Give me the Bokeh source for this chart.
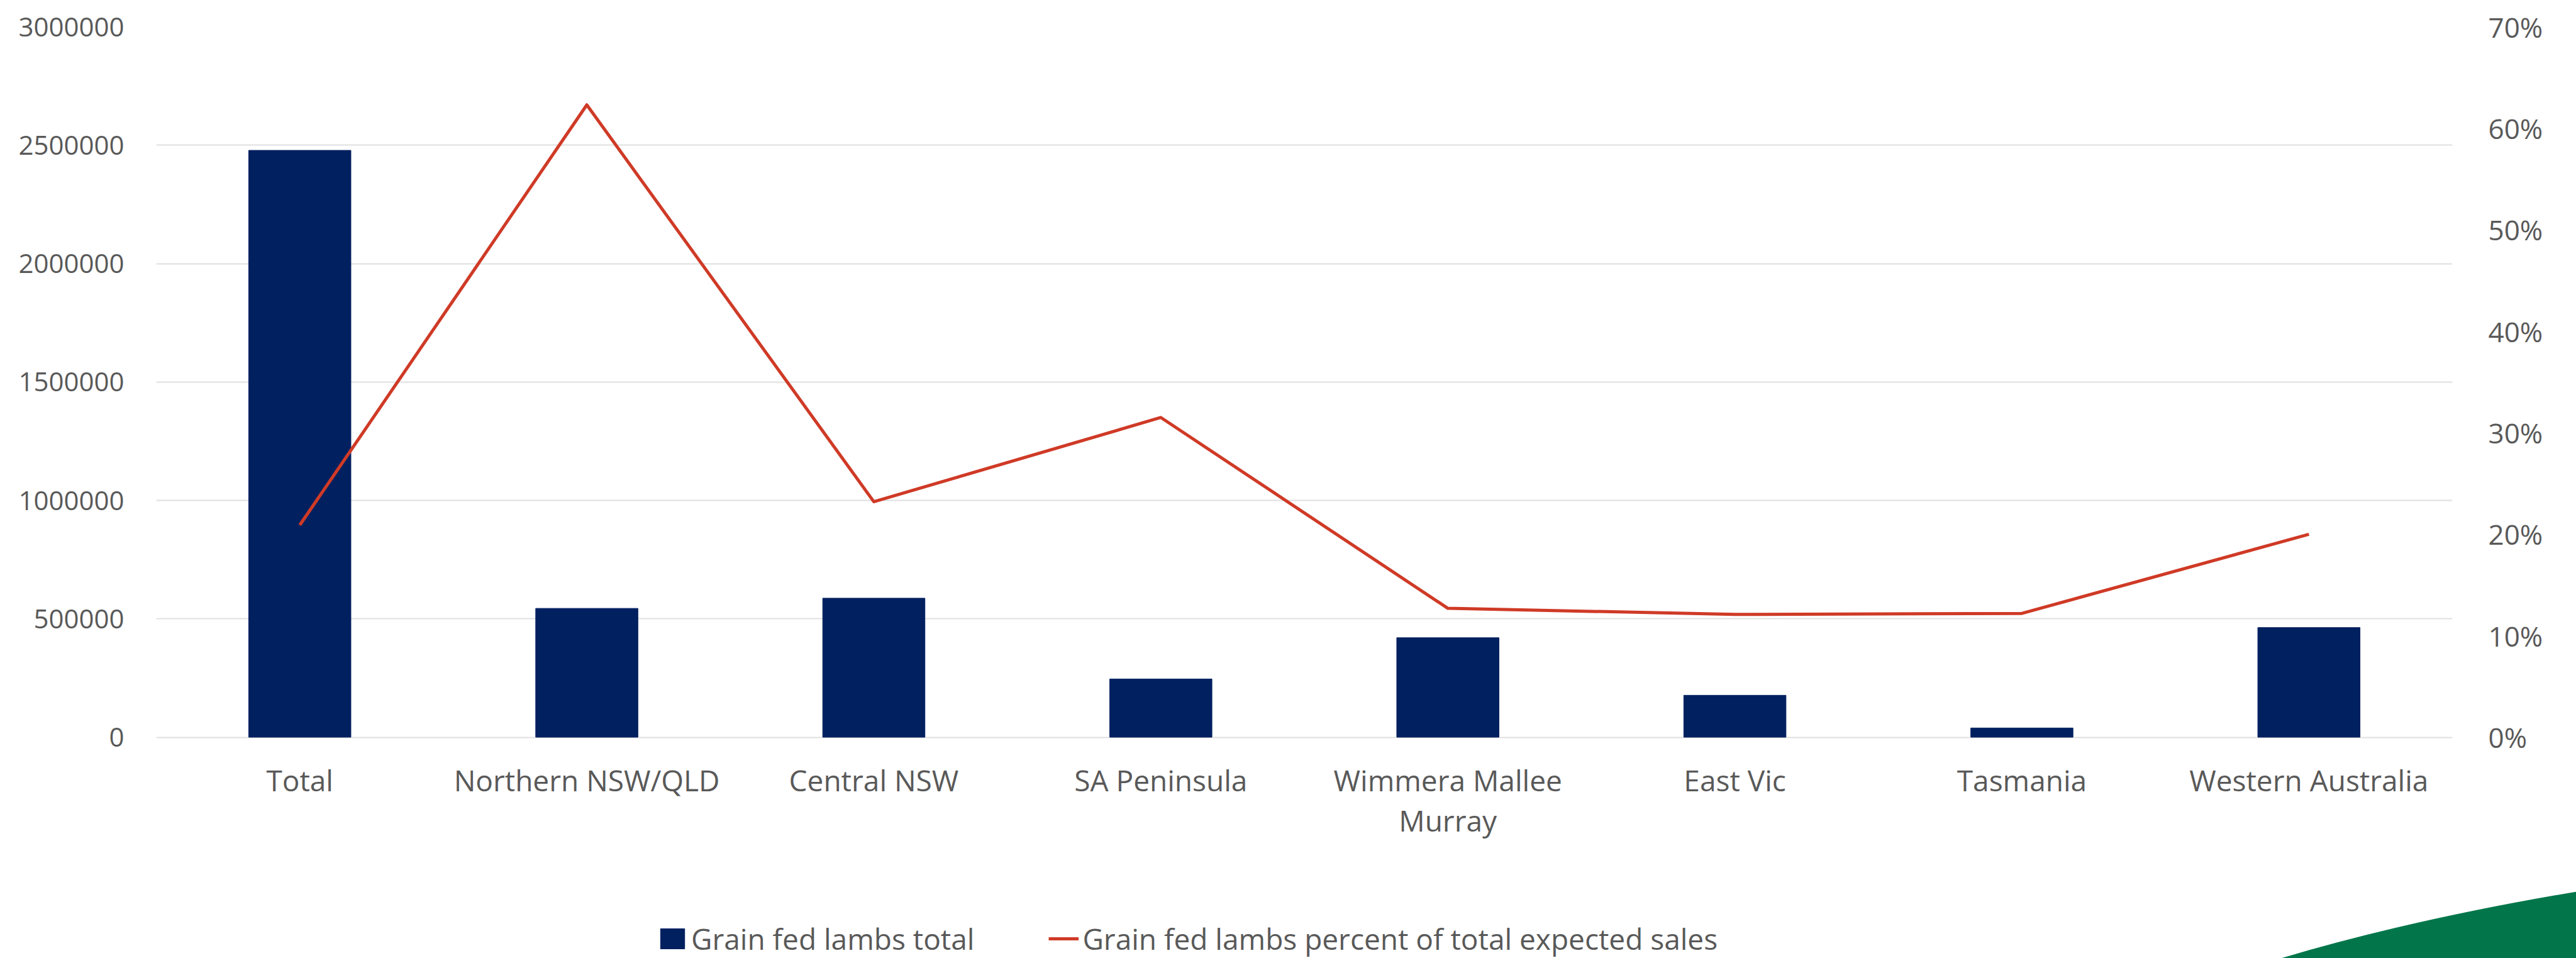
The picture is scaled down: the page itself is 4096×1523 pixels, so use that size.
from bokeh.plotting import figure
from bokeh.models import (Range1d, FactorRange, LinearAxis, FixedTicker, NumeralTickFormatter,
                          Legend, LegendItem)
from bokeh.core.properties import value
from bokeh.embed import file_html
from bokeh.resources import INLINE

categories = ["Total", "Northern NSW/QLD", "Central NSW", "SA Peninsula",
              "Wimmera Mallee\nMurray", "East Vic", "Tasmania", "Western Australia"]
lambs_total = [2478000, 544000, 587000, 246000, 420000, 177000, 39000, 463000]
pct_of_sales = [0.209, 0.623, 0.232, 0.315, 0.127, 0.121, 0.122, 0.200]
left_ticks = [0, 500000, 1000000, 1500000, 2000000, 2500000, 3000000]
right_ticks = [0.0, 0.1, 0.2, 0.3, 0.4, 0.5, 0.6, 0.7]

FONT = "Open Sans"
TXT = "#595959"
BAR = "#002060"
RED = "#CF3A26"
GREEN = "%2302764A"

W, H = 4096, 1523
TOP, LEFT, RIGHT = 42, 248, 197
PLOT_PX = 1129.5               # height of the value area (0 .. max)
BELOW_PX = H - TOP - PLOT_PX   # area under the zero line (category labels, legend)
LEFT_MAX, RIGHT_MAX = 3000000, 0.7

p = figure(width=W, height=H, output_backend="svg", toolbar_location=None,
           x_range=FactorRange(*categories, range_padding=0),
           y_range=Range1d(-LEFT_MAX * BELOW_PX / PLOT_PX, LEFT_MAX),
           x_axis_location=None,
           min_border_left=LEFT, min_border_right=RIGHT, min_border_top=TOP, min_border_bottom=0)
p.outline_line_color = None
p.background_fill_alpha = 0
p.border_fill_alpha = 0
p.extra_y_ranges = {"pct": Range1d(-RIGHT_MAX * BELOW_PX / PLOT_PX, RIGHT_MAX)}

# decorative green swoosh in the bottom-right corner (page decoration, drawn with CSS)
swoosh = ("<svg xmlns='http://www.w3.org/2000/svg' width='4096' height='1523'>"
          "<path d='M3615,1527 Q3830,1462 4100,1417 L4100,1530 L3600,1530 Z' fill='" + GREEN + "'/></svg>")
p.styles = {"background-image": 'url("data:image/svg+xml;utf8,' + swoosh + '")',
            "background-repeat": "no-repeat", "background-color": "white"}

p.xgrid.grid_line_color = None
p.ygrid.ticker = FixedTicker(ticks=left_ticks)
p.ygrid.grid_line_color = "#E0E0E0"
p.ygrid.grid_line_width = 2

bars = p.vbar(x=categories, top=lambs_total, width=0.356, fill_color=BAR, line_color=BAR)
line = p.line(x=categories, y=pct_of_sales, y_range_name="pct", line_color=RED, line_width=5,
              line_join="round")

# category labels under the zero line
p.text(x=categories, y=[0] * len(categories), text=categories, y_offset=37,
       text_align="center", text_baseline="top", text_line_height=1.04,
       text_font=value(FONT), text_font_size="46px", text_color=TXT)

# left axis
ya = p.yaxis[0]
ya.ticker = FixedTicker(ticks=left_ticks)
ya.formatter = NumeralTickFormatter(format="0")
ya.axis_line_color = None
ya.major_tick_line_color = None
ya.minor_tick_line_color = None
ya.major_label_standoff = 45
ya.major_label_text_font = FONT
ya.major_label_text_font_size = "42px"
ya.major_label_text_color = TXT

# right axis
ra = LinearAxis(y_range_name="pct", ticker=FixedTicker(ticks=right_ticks),
                formatter=NumeralTickFormatter(format="0%"))
ra.axis_line_color = None
ra.major_tick_line_color = None
ra.minor_tick_line_color = None
ra.major_label_standoff = 51
ra.major_label_text_font = FONT
ra.major_label_text_font_size = "44px"
ra.major_label_text_color = TXT
p.add_layout(ra, "right")

legend = Legend(items=[LegendItem(label="Grain fed lambs total", renderers=[bars]),
                       LegendItem(label="Grain fed lambs percent of total expected sales", renderers=[line])],
                orientation="horizontal", location=(797, 0),
                glyph_width=48, glyph_height=40, label_standoff=6, spacing=118,
                padding=0, margin=0, border_line_color=None, background_fill_alpha=0,
                label_text_font=FONT, label_text_font_size="46px", label_text_color=TXT)
p.add_layout(legend, "center")

open("out.html", "w").write(file_html(p, INLINE))
